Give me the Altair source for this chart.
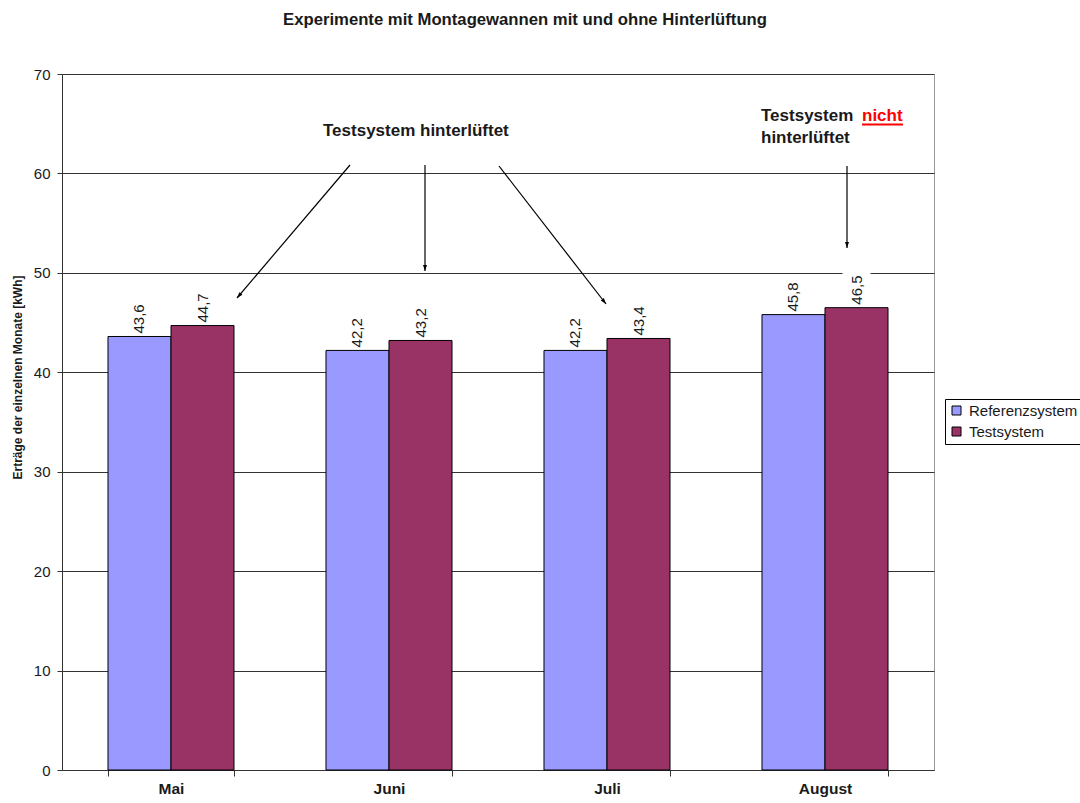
import altair as alt
import pandas as pd

# Monthly yields (kWh) of the reference and the test system
months = ["Mai", "Juni", "Juli", "August"]
series = ["Referenzsystem", "Testsystem"]
referenz = [43.6, 42.2, 42.2, 45.8]
test = [44.7, 43.2, 43.4, 46.5]
colors = ["#9999FF", "#993366"]
y_ticks = [0, 10, 20, 30, 40, 50, 60, 70]

rows = []
for m, r, t in zip(months, referenz, test):
    rows.append({"month": m, "series": series[0], "value": r})
    rows.append({"month": m, "series": series[1], "value": t})
df = pd.DataFrame(rows)
single = pd.DataFrame({"k": [0]})  # one row for annotation marks

FONT = "Liberation Sans"
INK = "#1a1a1a"

x_enc = alt.X(
    "month:N",
    sort=months,
    scale=alt.Scale(paddingInner=0.422, paddingOuter=0.211),
    axis=alt.Axis(
        title=None,
        labelFontWeight="bold",
        labelFontSize=15.5,
        labelColor=INK,
        labelPadding=5,
        tickSize=6,
        tickBand="extent",
        tickColor="#333333",
        domainColor="#333333",
        labelAngle=0,
    ),
)
xoff = alt.XOffset("series:N", sort=series, scale=alt.Scale(paddingInner=0, paddingOuter=0))
y_enc = alt.Y(
    "value:Q",
    scale=alt.Scale(domain=[0, 70], nice=False),
    axis=alt.Axis(
        values=y_ticks,
        title="Erträge der einzelnen Monate [kWh]",
        titleFontSize=12,
        titleFontWeight="bold",
        titleColor=INK,
        titleX=-45,
        titleY=303,
        titleAngle=270,
        titleAlign="center",
        titleBaseline="middle",
        labelFontSize=15,
        labelColor=INK,
        labelPadding=7,
        tickSize=5,
        tickColor="#333333",
        domainColor="#333333",
        grid=True,
        gridColor="#333333",
        gridWidth=1,
    ),
)

bars = alt.Chart(df).mark_bar(stroke="black", strokeWidth=1).encode(
    x=x_enc,
    xOffset=xoff,
    y=y_enc,
    color=alt.Color(
        "series:N",
        sort=series,
        scale=alt.Scale(domain=series, range=colors),
        legend=alt.Legend(
            title=None,
            orient="none",
            legendX=883,
            legendY=325,
            strokeColor="black",
            fillColor="white",
            padding=4,
            labelFontSize=15,
            labelColor=INK,
            labelOffset=5,
            symbolType="square",
            symbolSize=81,
            symbolStrokeColor="black",
            symbolStrokeWidth=1,
            rowPadding=5,
        ),
    ),
)

# white boxes behind the value labels (they hide the grid line underneath)
label_bg = (
    alt.Chart(df)
    .transform_calculate(lo="datum.value + 0.25", hi="datum.value + 3.7")
    .mark_bar(color="white", width=28)
    .encode(
        x=alt.X("month:N", sort=months),
        xOffset=xoff,
        y=alt.Y("lo:Q"),
        y2="hi:Q",
    )
)

labels = (
    alt.Chart(df)
    .transform_calculate(label="replace(format(datum.value, '.1f'), '.', ',')")
    .mark_text(angle=270, align="left", baseline="middle", dx=3, fontSize=15, color=INK)
    .encode(
        x=alt.X("month:N", sort=months),
        xOffset=xoff,
        y=alt.Y("value:Q"),
        text="label:N",
    )
)

# annotation arrows: start (x, y), end (x, y), head angle
arrows = [
    ((288, 91), (175, 224), 40.4),
    ((363, 91), (363, 197), 0),
    ((437, 92), (544, 230), 322.2),
    ((785, 92), (785, 174), 0),
]
head_path = "M0,0L-1,-3L1,-3Z"

layers = [bars, label_bg, labels]
for (x1, y1), (x2, y2), ang in arrows:
    layers.append(
        alt.Chart(single).mark_rule(color="black", strokeWidth=1.2).encode(
            x=alt.value(x1), y=alt.value(y1), x2=alt.value(x2), y2=alt.value(y2)
        )
    )
    layers.append(
        alt.Chart(single).mark_point(
            shape=head_path, filled=True, color="black", size=16, angle=ang, opacity=1
        ).encode(x=alt.value(x2), y=alt.value(y2))
    )


def note(text, x, y, color=INK, size=17, align="left"):
    return alt.Chart(single).mark_text(
        text=text, align=align, baseline="alphabetic", fontSize=size,
        fontWeight="bold", color=color,
    ).encode(x=alt.value(x), y=alt.value(y))


layers += [
    # chart heading
    note("Experimente mit Montagewannen mit und ohne Hinterlüftung", 463, -49,
         size=16.7, align="center"),
    note("Testsystem hinterlüftet", 261, 62),
    note("Testsystem", 699, 47),
    note("nicht", 800, 47, "#FF0000"),
    note("hinterlüftet", 699, 69),
    alt.Chart(single).mark_rule(color="#FF0000", strokeWidth=2).encode(
        x=alt.value(800), x2=alt.value(841), y=alt.value(50.5)
    ),
]

chart = (
    alt.layer(*layers)
    .properties(
        width=872,
        height=696,
        autosize=alt.AutoSizeParams(type="none"),
        padding={"left": 62, "top": 74, "right": 146, "bottom": 33},
    )
    .configure(font=FONT)
    .configure_view(stroke="#999999", strokeWidth=1)
)

chart.save("out.html", embed_options={"renderer": "svg", "actions": False})
